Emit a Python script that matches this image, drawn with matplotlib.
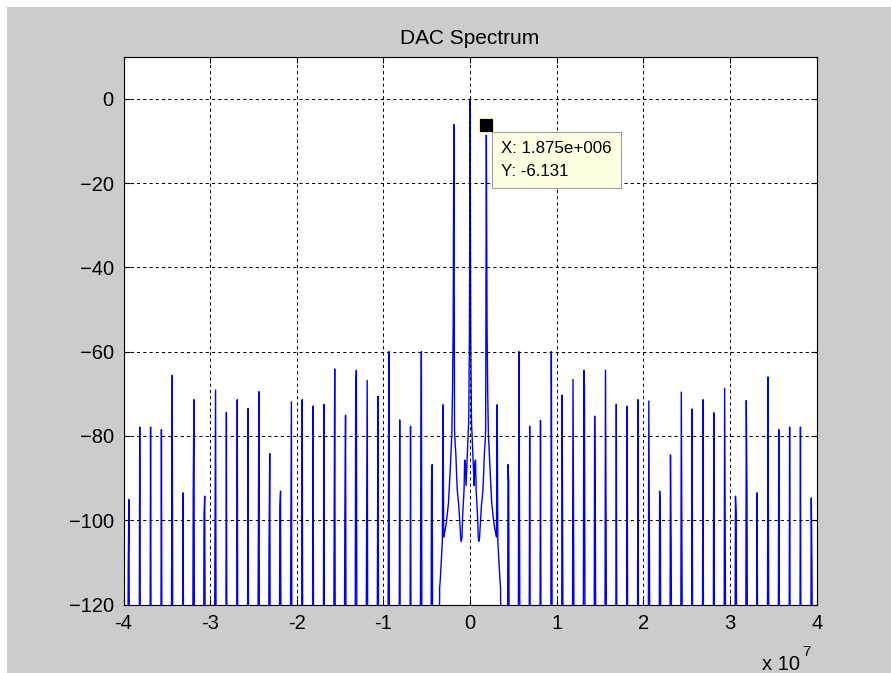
import numpy as np
import matplotlib
matplotlib.use("Agg")
import matplotlib.pyplot as plt
from matplotlib.patches import Rectangle

plt.rcParams['font.family'] = ['Liberation Sans', 'DejaVu Sans']

# DAC output spectrum, fs = 80 MHz, 1024-point FFT
fs = 80e6
nfft = 1024
bin_hz = fs / nfft

# spur frequencies (Hz), odd multiples of 625 kHz across the band
spur_freq = [-39.375e6 + 1.25e6 * k for k in range(64)]

# peak level of each spur (dB)
spur_db = [
    -95.1, -77.9, -77.9, -78.5, -65.6, -93.5, -71.4, -94.3,
    -69.1, -74.4, -71.4, -73.5, -69.5, -84.2, -93.1, -71.9,
    -71.4, -72.9, -72.5, -64.1, -75.1, -64.4, -66.8, -70.6,
    -60.0, -76.2, -77.7, -60.0, -86.8, -72.6, -6.1, -85.7,
    -85.7, -6.131, -72.6, -86.8, -60.0, -77.7, -76.3, -60.0,
    -70.3, -66.6, -64.4, -75.3, -64.4, -72.5, -72.9, -71.4,
    -71.7, -93.1, -84.5, -69.6, -73.6, -71.4, -74.5, -68.7,
    -94.3, -71.6, -93.5, -66.0, -78.5, -77.9, -77.9, -94.7,
]

# level of the neighbouring bin next to each spur (nan = below axis)
nan = np.nan
spur_side_db = [
    -111.0, nan, nan, nan, -117.0, nan, -94.7, -98.2,
    -112.3, nan, nan, nan, -113.2, -106.1, -96.9, -112.3,
    nan, nan, nan, -111.9, -98.4, -68.2, -106.9, -118.4,
    -116.0, nan, nan, -99.8, -90.5, nan, -54.0, nan,
    nan, -54.0, nan, -90.9, -99.8, nan, nan, -116.0,
    -118.4, -106.9, -68.2, -98.4, -111.9, nan, nan, nan,
    -112.3, -96.9, -106.0, -112.9, nan, nan, nan, -112.6,
    -98.4, -94.7, nan, -116.8, nan, nan, nan, -111.4,
]

# window leakage around the carrier, bins -45 .. +45 (dB)
skirt_db = [
    -116, -114, -111, -108, -105, -104.5, -104, -103, -102.5, -101.5,
    -100.5, -99, -97.5, -96, -93, -90, -87, -83, -79.5, -69.5,
    -60, -60, -78.6, -82, -84.5, -89, -92.7, -94.5, -96, -98.5,
    -101, -104, -105, -104, -99, -96, -93, -85.7, -86.5, -91.8,
    -88, -84, -80, -76.3, -56.9,
    0.0,
    -56.9, -76.3, -80, -84, -88,
    -91.8, -86.5, -85.7, -93, -96, -99, -104, -105, -104, -101,
    -98.5, -96, -94.5, -92.7, -89, -84.5, -82, -78.6, -60, -60,
    -69.5, -79.5, -83, -87, -90, -93, -96, -97.5, -99, -100.5,
    -101.5, -102.5, -103, -104, -104.5, -105, -108, -111, -114, -116,
]
skirt_bins = list(range(-45, 46))

noise_floor_db = -150.0   # below the plotted range

tip_x = 1.875e6
tip_y = -6.131

# assemble the spectrum on the FFT grid
bins = np.arange(-nfft // 2, nfft // 2)
spec = np.full(bins.size, noise_floor_db)
off = nfft // 2
spec[np.array(skirt_bins) + off] = skirt_db
for k, (f, v, s) in enumerate(zip(spur_freq, spur_db, spur_side_db)):
    b = int(round(f / bin_hz))
    spec[b + off] = max(spec[b + off], v)
    if not np.isnan(s):
        sb = b - 1 if k < 32 else b + 1
        spec[sb + off] = max(spec[sb + off], s)
freq = bins * bin_hz

W, H = 891, 673
fig = plt.figure(figsize=(W / 100, H / 100), dpi=100, facecolor='#cccccc')
# thin white margin on the left/top of the screenshot
fig.add_artist(Rectangle((0, 0), 7 / W, 1, transform=fig.transFigure, fc='white', ec='none'))
fig.add_artist(Rectangle((0, 1 - 7 / H), 1, 7 / H, transform=fig.transFigure, fc='white', ec='none'))

ax_l, ax_r, ax_t, ax_b = 123.5, 816.7, 56.7, 604.5
ax = fig.add_axes([ax_l / W, 1 - ax_b / H, (ax_r - ax_l) / W, (ax_b - ax_t) / H])
ax.plot(freq, spec, color='#0000ff', lw=1.0)

ax.set_xlim(-4e7, 4e7)
ax.set_ylim(-120, 10)
xt = np.arange(-4, 5)
ax.set_xticks(xt * 1e7)
ax.set_xticklabels([str(v) for v in xt])
ax.set_yticks(np.arange(-120, 1, 20))
ax.tick_params(direction='in', length=4.5, width=0.8, top=True, right=True,
               labelsize=14.5, pad=7)
for sp in ax.spines.values():
    sp.set_linewidth(0.8)
ax.grid(True, color='black', linestyle=(0, (3, 3)), linewidth=0.75)
ax.set_axisbelow(False)
ax.set_title('DAC Spectrum', fontsize=15, pad=9)

# axis multiplier "x 10^7" below the right end of the x axis
axw, axh = ax_r - ax_l, ax_b - ax_t
ax.text((800 - ax_l) / axw, -(670 - ax_b) / axh, 'x 10', transform=ax.transAxes,
        ha='right', va='baseline', fontsize=14.5)
ax.text((802 - ax_l) / axw, -(656 - ax_b) / axh, '7', transform=ax.transAxes,
        ha='left', va='baseline', fontsize=11)

# data tip
ax.plot(tip_x, tip_y, 's', ms=11, mfc='black', mec='#ffffe1', mew=2, zorder=5)
ax.annotate('X: 1.875e+006\nY: -6.131', xy=(tip_x, tip_y),
            xytext=(10.5, -12), textcoords='offset points', ha='left', va='top',
            fontsize=12.2, linespacing=1.65, zorder=6,
            bbox=dict(boxstyle='square,pad=0.55', fc='#ffffe1', ec='#a0a0a0', lw=0.8))

fig.savefig('out.png', dpi=100, facecolor=fig.get_facecolor())
